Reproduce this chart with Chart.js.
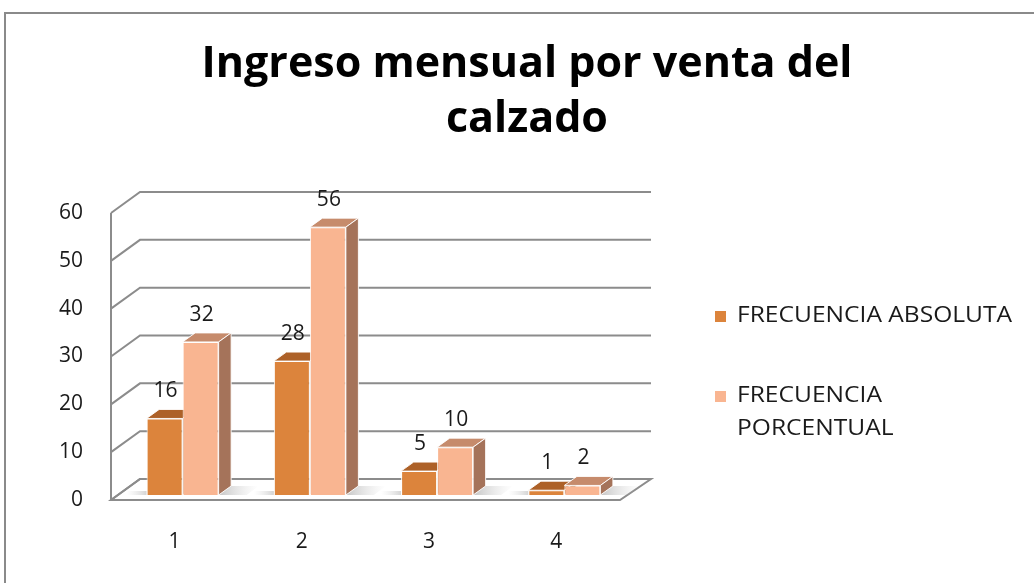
<!DOCTYPE html>
<html><head><meta charset="utf-8">
<script src="https://cdn.jsdelivr.net/npm/chart.js@4"></script>
<style>html,body{margin:0;padding:0;background:#fff;overflow:hidden}</style>
</head>
<body>
<canvas id="c" width="1034" height="583"></canvas>
<script>
// ---- data ----
const categories = ['1', '2', '3', '4'];
const absoluta = [16, 28, 5, 1];
const porcentual = [32, 56, 10, 2];
const seriesNames = ['FRECUENCIA ABSOLUTA', 'FRECUENCIA PORCENTUAL'];
const yTicks = [0, 10, 20, 30, 40, 50, 60];
const titleLines = ['Ingreso mensual por venta del', 'calzado'];

// ---- style ----
const FONT = '"Open Sans", Lato, sans-serif';
const frontColors = ['#DC843C', '#F9B591'];
const topColors = ['#AD6128', '#C68B6C'];
const sideColors = ['#99592C', '#A5735A'];
const WALL = { dx: 29, dy: -21 };
const BAR = { dx: 12.5, dy: -9, shiftX: 8, shiftY: -5 };
const GRID = '#8c8c8c';

function drawFaces(ctx, el, i) {
  const p = el.getProps(['x', 'y', 'base', 'width'], true);
  const l = p.x - p.width / 2, r = p.x + p.width / 2;
  ctx.save();
  ctx.lineWidth = 1;
  ctx.strokeStyle = 'rgba(255,255,255,0.9)';
  ctx.fillStyle = topColors[i];
  ctx.beginPath();
  ctx.moveTo(l, p.y); ctx.lineTo(r, p.y);
  ctx.lineTo(r + BAR.dx, p.y + BAR.dy); ctx.lineTo(l + BAR.dx, p.y + BAR.dy);
  ctx.closePath(); ctx.fill(); ctx.stroke();
  ctx.fillStyle = sideColors[i];
  ctx.beginPath();
  ctx.moveTo(r, p.y); ctx.lineTo(r + BAR.dx, p.y + BAR.dy);
  ctx.lineTo(r + BAR.dx, p.base + BAR.dy); ctx.lineTo(r, p.base);
  ctx.closePath(); ctx.fill(); ctx.stroke();
  ctx.restore();
}

const threeD = {
  id: 'threeD',
  beforeDraw(chart) {
    const ctx = chart.ctx;
    ctx.save();
    ctx.strokeStyle = '#8a8a8a';
    ctx.lineWidth = 2;
    ctx.beginPath();
    ctx.moveTo(5, 600); ctx.lineTo(5, 13); ctx.lineTo(1040, 13);
    ctx.stroke();
    ctx.restore();
  },
  beforeDatasetsDraw(chart) {
    const ctx = chart.ctx, y = chart.scales.y, a = chart.chartArea;
    ctx.save();
    ctx.strokeStyle = GRID;
    ctx.lineWidth = 2;
    const y0 = y.getPixelForValue(0);
    ctx.fillStyle = '#ffffff';
    ctx.beginPath();
    ctx.moveTo(a.left, y0); ctx.lineTo(a.right, y0);
    ctx.lineTo(a.right + WALL.dx + 2, y0 + WALL.dy);
    ctx.lineTo(a.left + WALL.dx, y0 + WALL.dy);
    ctx.closePath();
    ctx.fill(); ctx.stroke();
    yTicks.forEach(v => {
      const py = y.getPixelForValue(v);
      ctx.beginPath();
      ctx.moveTo(a.left, py);
      ctx.lineTo(a.left + WALL.dx, py + WALL.dy);
      ctx.lineTo(a.right + WALL.dx + 2, py + WALL.dy);
      ctx.stroke();
    });
    ctx.beginPath();
    ctx.moveTo(a.left, y.getPixelForValue(yTicks[yTicks.length - 1]));
    ctx.lineTo(a.left, y0);
    ctx.stroke();
    ctx.restore();
  },
  beforeDatasetDraw() { return false; },
  afterDatasetsDraw(chart) {
    const ctx = chart.ctx;
    ctx.save();
    ctx.translate(BAR.shiftX, BAR.shiftY);
    chart.getDatasetMeta(1).data.forEach(el => {
      const p = el.getProps(['x', 'base', 'width'], true);
      const r = p.x + p.width / 2;
      const g = ctx.createLinearGradient(r, 0, r + 40, 0);
      g.addColorStop(0, 'rgba(150,150,150,0.55)');
      g.addColorStop(1, 'rgba(200,200,200,0)');
      ctx.fillStyle = g;
      ctx.beginPath();
      ctx.moveTo(r, p.base); ctx.lineTo(r + BAR.dx, p.base + BAR.dy);
      ctx.lineTo(r + 40, p.base + BAR.dy); ctx.lineTo(r + 28, p.base);
      ctx.closePath(); ctx.fill();
    });
    chart.getDatasetMeta(0).data.forEach(el => {
      const p = el.getProps(['x', 'base', 'width'], true);
      const l = p.x - p.width / 2;
      const g = ctx.createLinearGradient(l - 20, 0, l, 0);
      g.addColorStop(0, 'rgba(200,200,200,0)');
      g.addColorStop(1, 'rgba(170,170,170,0.5)');
      ctx.fillStyle = g;
      ctx.fillRect(l - 20, p.base - 4, 20, 4);
    });
    categories.forEach((c, j) => {
      chart.data.datasets.forEach((ds, i) => {
        const el = chart.getDatasetMeta(i).data[j];
        el.draw(ctx, chart.chartArea);
        drawFaces(ctx, el, i);
      });
    });
    ctx.font = '21px ' + FONT;
    ctx.fillStyle = '#1a1a1a';
    ctx.textAlign = 'center';
    ctx.textBaseline = 'middle';
    chart.data.datasets.forEach((ds, i) => {
      chart.getDatasetMeta(i).data.forEach((el, j) => {
        const p = el.getProps(['x', 'y'], true);
        ctx.fillText(String(ds.data[j]), p.x + 1, p.y - 27);
      });
    });
    ctx.restore();
  },
  afterDraw(chart) {
    const ctx = chart.ctx;
    ctx.save();
    ctx.font = '21px ' + FONT;
    ctx.textAlign = 'left';
    ctx.textBaseline = 'middle';
    const stretch = 1.17;
    const starts = [316, 396];
    chart.data.datasets.forEach((ds, i) => {
      const words = ds.label.split(' ');
      const lines = []; let cur = '';
      words.forEach(w => {
        const t = cur ? cur + ' ' + w : w;
        if (ctx.measureText(t).width * stretch > 290 && cur) { lines.push(cur); cur = w; } else cur = t;
      });
      lines.push(cur);
      ctx.fillStyle = frontColors[i];
      ctx.fillRect(715, starts[i] - 5, 11, 11);
      ctx.fillStyle = '#1a1a1a';
      lines.forEach((ln, k) => {
        ctx.save();
        ctx.translate(737, starts[i] + k * 33.5);
        ctx.scale(stretch, 1);
        ctx.fillText(ln, 0, 0);
        ctx.restore();
      });
    });
    ctx.restore();
  }
};

new Chart(document.getElementById('c'), {
  type: 'bar',
  plugins: [threeD],
  data: {
    labels: categories,
    datasets: [
      { label: seriesNames[0], data: absoluta, backgroundColor: frontColors[0], borderColor: '#ffffff', borderWidth: 1, clip: false },
      { label: seriesNames[1], data: porcentual, backgroundColor: frontColors[1], borderColor: '#ffffff', borderWidth: 1, clip: false }
    ]
  },
  options: {
    responsive: false,
    animation: false,
    devicePixelRatio: 1,
    layout: { padding: { left: 20, right: 0, top: 0, bottom: 0 } },
    datasets: { bar: { categoryPercentage: 0.566, barPercentage: 1 } },
    plugins: {
      legend: { display: false },
      tooltip: { enabled: false },
      title: {
        display: true,
        text: titleLines,
        color: '#000',
        font: { family: FONT, size: 43, weight: 'bold', lineHeight: 55 / 43 },
        padding: { top: 37, bottom: 66 }
      }
    },
    scales: {
      x: {
        grid: { display: false, drawTicks: false },
        border: { display: false },
        ticks: { color: '#1a1a1a', font: { family: FONT, size: 21 }, padding: 29 },
        afterFit(s) { s.height = 83; }
      },
      y: {
        min: 0, max: 60,
        grid: { display: false, drawTicks: false },
        border: { display: false },
        ticks: { color: '#1a1a1a', font: { family: FONT, size: 21 }, padding: 28 },
        afterBuildTicks(s) { s.ticks = yTicks.map(v => ({ value: v })); },
        afterFit(s) { s.width = 91; }
      },
      yR: {
        position: 'right',
        min: 0, max: 60,
        grid: { display: false, drawTicks: false },
        border: { display: false },
        ticks: { display: false },
        afterFit(s) { s.width = 414; }
      }
    }
  }
});
</script>
</body></html>
